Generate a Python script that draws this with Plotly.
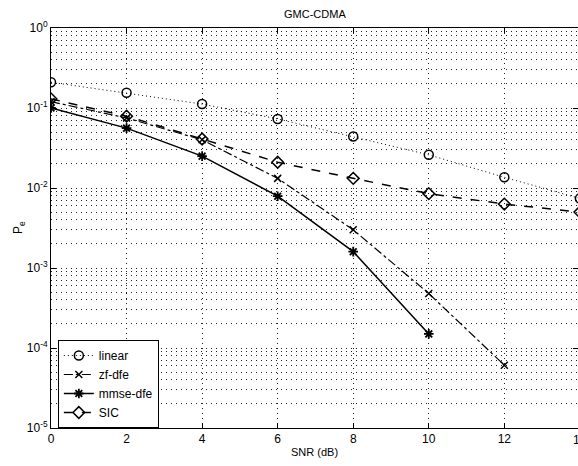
import plotly.graph_objects as go

snr = [0, 2, 4, 6, 8, 10, 12, 14]
linear = [0.21, 0.155, 0.112, 0.073, 0.044, 0.026, 0.0136, 0.0074]
zf_snr = [0, 2, 4, 6, 8, 10, 12]
zf_dfe = [0.12, 0.075, 0.04, 0.0132, 0.0030, 4.8e-4, 6.1e-5]
mmse_snr = [0, 2, 4, 6, 8, 10]
mmse_dfe = [0.10, 0.056, 0.025, 0.0079, 0.0016, 1.5e-4]
sic = [0.13, 0.079, 0.041, 0.021, 0.0132, 0.0085, 0.0063, 0.005]
xticks = [0, 2, 4, 6, 8, 10, 12]
yticks = [1e-5, 1e-4, 1e-3, 1e-2, 1e-1, 1]
ytext = ["10<sup>-5</sup>", "10<sup>-4</sup>", "10<sup>-3</sup>", "10<sup>-2</sup>",
         "10<sup>-1</sup>", "10<sup>0</sup>"]

GRID = "#222"
DASH = "1px,4px"

fig = go.Figure()
fig.add_trace(go.Scatter(x=snr, y=linear, name="linear", mode="lines+markers",
                         line=dict(color="black", width=1, dash="1px,3px"),
                         marker=dict(symbol="circle-open", size=9, color="black", line=dict(width=1.5))))
fig.add_trace(go.Scatter(x=zf_snr, y=zf_dfe, name="zf-dfe", mode="lines+markers",
                         line=dict(color="black", width=1.2, dash="dashdot"),
                         marker=dict(symbol="x-thin-open", size=7, color="black", line=dict(width=1.5, color="black"))))
fig.add_trace(go.Scatter(x=mmse_snr, y=mmse_dfe, name="mmse-dfe", mode="lines+markers",
                         line=dict(color="black", width=1.5),
                         marker=dict(symbol="asterisk-open", size=8, color="black", line=dict(width=1.8, color="black"))))
fig.add_trace(go.Scatter(x=snr, y=sic, name="SIC", mode="lines+markers",
                         line=dict(color="black", width=1.5, dash="dash"),
                         marker=dict(symbol="diamond-open", size=9, color="black", line=dict(width=1.5))))

fig.update_layout(
    width=578, height=466,
    margin=dict(l=51, r=0, t=28, b=38),
    paper_bgcolor="white", plot_bgcolor="white",
    font=dict(family="Liberation Sans, Arial, sans-serif", size=11, color="black"),
    showlegend=True,
    legend=dict(x=0.013, y=0.0, xanchor="left", yanchor="bottom",
                bordercolor="black", borderwidth=1, bgcolor="white",
                font=dict(size=12), tracegroupgap=0, itemwidth=30),
)
fig.update_xaxes(range=[0, 13.95], tickvals=xticks, ticktext=[str(v) for v in xticks],
                 automargin=False,
                 showline=True, linecolor="black", linewidth=1, mirror="ticks",
                 ticks="inside", ticklen=5, tickcolor="black",
                 showgrid=True, gridcolor=GRID, griddash=DASH, gridwidth=1,
                 zeroline=False, tickfont=dict(size=12))
fig.update_yaxes(type="log", range=[-5, 0], tickvals=yticks, ticktext=ytext,
                 automargin=False,
                 showline=True, linecolor="black", linewidth=1, mirror="ticks",
                 ticks="inside", ticklen=5, tickcolor="black",
                 showgrid=True, gridcolor=GRID, griddash=DASH, gridwidth=1,
                 minor=dict(dtick="D1", showgrid=True, gridcolor=GRID, griddash=DASH, ticks=""),
                 zeroline=False, tickfont=dict(size=12))
fig.add_annotation(text="GMC-CDMA", xref="paper", yref="paper", x=0.5, y=1.0,
                   yshift=6, xanchor="center", yanchor="bottom", showarrow=False,
                   font=dict(size=11))
fig.add_annotation(text="SNR (dB)", xref="paper", yref="paper", x=0.5, y=0,
                   yshift=-16, xanchor="center", yanchor="top", showarrow=False,
                   font=dict(size=11))
fig.add_annotation(text="P<sub>e</sub>", xref="paper", yref="paper", x=0, y=0.5,
                   xshift=-22, xanchor="right", yanchor="middle", showarrow=False,
                   textangle=-90, font=dict(size=12))
fig.add_annotation(text="14", xref="paper", yref="paper", x=1.0036, y=0,
                   yshift=-3, xanchor="center", yanchor="top", showarrow=False,
                   font=dict(size=12))
fig.write_html("out.html", config={"displayModeBar": False},
               post_script="document.body.style.margin='0';document.body.style.overflow='hidden';")
